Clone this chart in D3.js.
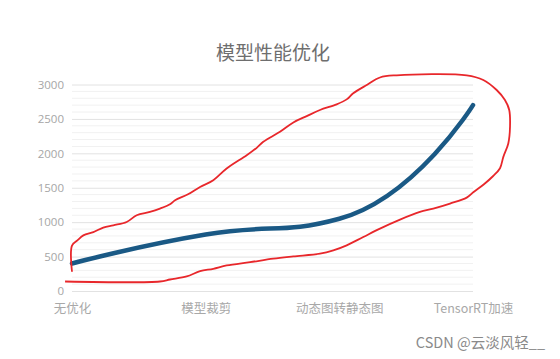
<!DOCTYPE html>
<html><head><meta charset="utf-8">
<script src="https://cdn.jsdelivr.net/npm/d3@7/dist/d3.min.js"></script>
<style>body{margin:0;background:#fff;overflow:hidden}</style></head>
<body><svg id="c" width="560" height="359"></svg>
<script>
// ---- data ----
const categories = ["无优化", "模型裁剪", "动态图转静态图", "TensorRT加速"];
const values = [400, 820, 1050, 2700];
const yTicks = [0, 500, 1000, 1500, 2000, 2500, 3000];
const titleText = "模型性能优化";
const watermark = "CSDN @云淡风轻__";
// hand-drawn red annotation, in (category index, value) units
const annoIdx = [0.00,0.00,0.04,0.085,0.16,0.234,0.309,0.409,0.484,0.583,0.658,0.733,0.771,0.868,0.958,1.057,1.157,1.307,1.382,1.431,1.556,1.656,1.756,1.855,1.980,2.055,2.104,2.205,2.304,2.429,2.953,3.077,3.177,3.239,3.271,3.277,3.264,3.227,3.202,3.149,3.082,3.002,2.953,2.828,2.703,2.603,2.454,2.304,2.179,2.055,1.955,1.855,1.656,1.506,1.332,1.157,1.057,0.958,0.858,0.733,0.658,-0.052];
const annoVal = [280,660,735,808,856,920,954,1002,1100,1148,1197,1260,1318,1405,1512,1609,1780,1973,2080,2167,2313,2449,2541,2629,2712,2784,2872,2993,3102,3134,3134,3066,2920,2774,2629,2385,2144,1949,1784,1667,1551,1434,1357,1270,1197,1148,1037,906,784,663,590,542,502,469,419,371,323,288,211,167,138,138];

// ---- chart ----
const svg = d3.select("#c");
const x = d3.scalePoint().domain(categories).range([72, 473]);
const xi = d3.scaleLinear().domain([0, categories.length - 1]).range([72, 473]);
const y = d3.scaleLinear().domain([0, 3000]).range([291, 84.5]);
const minorTicks = d3.range(0, 3001, 100).filter(v => v % 500 !== 0);

const cjk = "'Noto Sans CJK SC','Noto Sans',sans-serif";

svg.append("text").attr("x", 273).attr("y", 60).attr("text-anchor", "middle")
  .attr("font-family", cjk).attr("font-size", 19).attr("fill", "#6e6e6e").text(titleText);

// minor grid
svg.append("g").selectAll("line").data(minorTicks).join("line")
  .attr("x1", 72).attr("x2", 473).attr("y1", d => y(d)).attr("y2", d => y(d))
  .attr("stroke", "#f1f1f1").attr("stroke-width", 1);

// y axis with major grid
const yAxis = svg.append("g").attr("transform", "translate(72,0)")
  .call(d3.axisLeft(y).tickValues(yTicks).tickFormat(d3.format("d")).tickSize(-401).tickPadding(8));
yAxis.select(".domain").remove();
yAxis.selectAll(".tick line").attr("stroke", "#e2e2e2");
yAxis.selectAll(".tick text").attr("fill", "#a6a6a6").attr("font-size", 11.5)
  .attr("font-family", "'Open Sans','Noto Sans',sans-serif");

// x axis
const xAxis = svg.append("g").attr("transform", "translate(0,291)")
  .call(d3.axisBottom(x).tickSize(0).tickPadding(13));
xAxis.select(".domain").remove();
xAxis.selectAll(".tick text").attr("fill", "#a8a8a8").attr("font-size", 12.5)
  .attr("font-family", cjk);

// echarts-like smooth line
function smoothPath(pts, smooth) {
  const p = d3.path();
  let cpx0, cpy0, prevX, prevY;
  const n = pts.length;
  for (let k = 0; k < n; k++) {
    const [px, py] = pts[k];
    if (k === 0) { p.moveTo(px, py); cpx0 = px; cpy0 = py; }
    else {
      let ncx0, ncy0, ncx1, ncy1;
      if (k === n - 1) { ncx0 = px; ncy0 = py; }
      else {
        const [nx, ny] = pts[k + 1];
        let vx = nx - prevX, vy = ny - prevY;
        const lp = Math.hypot(px - prevX, py - prevY), ln = Math.hypot(nx - px, ny - py);
        const r = ln / (ln + lp);
        ncx1 = px + vx * smooth * r; ncy1 = py + vy * smooth * r;
        ncx1 = Math.max(Math.min(ncx1, Math.max(nx, px)), Math.min(nx, px));
        ncy1 = Math.max(Math.min(ncy1, Math.max(ny, py)), Math.min(ny, py));
        vx = ncx1 - px; vy = ncy1 - py;
        ncx0 = px - vx * lp / ln; ncy0 = py - vy * lp / ln;
        ncx0 = Math.max(Math.min(ncx0, Math.max(prevX, px)), Math.min(prevX, px));
        ncy0 = Math.max(Math.min(ncy0, Math.max(prevY, py)), Math.min(prevY, py));
        vx = px - ncx0; vy = py - ncy0;
        ncx1 = px + vx * ln / lp; ncy1 = py + vy * ln / lp;
      }
      p.bezierCurveTo(cpx0, cpy0, ncx0, ncy0, px, py);
      cpx0 = ncx1; cpy0 = ncy1;
    }
    prevX = px; prevY = py;
  }
  return p.toString();
}
const linePts = categories.map((c, i) => [x(c), y(values[i])]);
svg.append("path").attr("d", smoothPath(linePts, 0.5))
  .attr("fill", "none").attr("stroke", "#1a5985").attr("stroke-width", 4.5)
  .attr("stroke-linecap", "round");

// red annotation
const anno = annoIdx.map((v, i) => [v, annoVal[i]]);
svg.append("path").datum(anno)
  .attr("d", d3.line().x(d => xi(d[0])).y(d => y(d[1])).curve(d3.curveCatmullRom.alpha(0.5)))
  .attr("fill", "none").attr("stroke", "#e8272b").attr("stroke-width", 1.8)
  .attr("stroke-linejoin", "round");

svg.append("text").attr("x", 545).attr("y", 348).attr("text-anchor", "end")
  .attr("font-family", cjk).attr("font-size", 14.5).attr("fill", "#8a8a8a").text(watermark);
</script></body></html>
